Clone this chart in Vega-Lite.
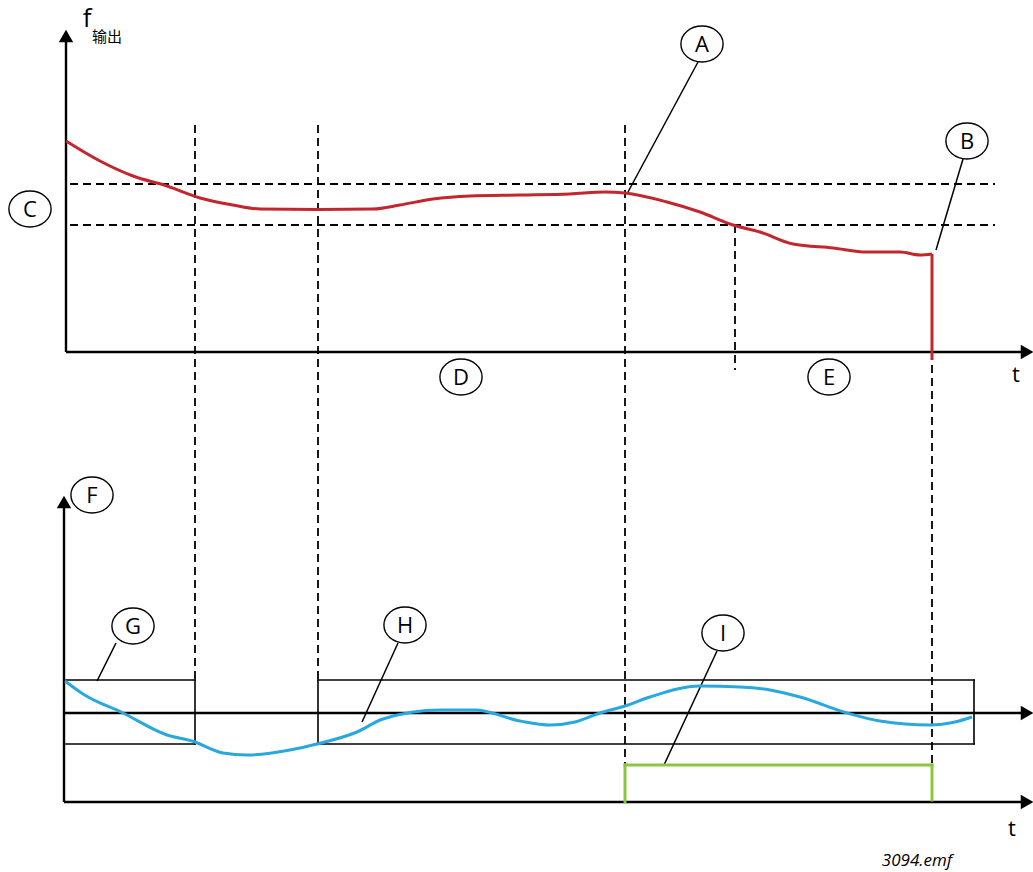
{
  "$schema": "https://vega.github.io/schema/vega-lite/v6.json",
  "autosize": "none",
  "width": 1033,
  "height": 872,
  "padding": 0,
  "background": "white",
  "config": {"view": {"stroke": null}},
  "datasets": {
    "rules": [
      {"kind": "axis", "x": 66, "y": 352, "x2": 66, "y2": 42},
      {"kind": "axis", "x": 66, "y": 352, "x2": 1024, "y2": 352},
      {"kind": "axis", "x": 64, "y": 802, "x2": 64, "y2": 507},
      {"kind": "axis", "x": 64, "y": 713, "x2": 1024, "y2": 713},
      {"kind": "axis", "x": 64, "y": 802, "x2": 1024, "y2": 802},
      {"kind": "box", "x": 66, "y": 680, "x2": 195, "y2": 680},
      {"kind": "box", "x": 66, "y": 744, "x2": 195, "y2": 744},
      {"kind": "box", "x": 195, "y": 680, "x2": 195, "y2": 744},
      {"kind": "box", "x": 318, "y": 680, "x2": 974, "y2": 680},
      {"kind": "box", "x": 318, "y": 744, "x2": 974, "y2": 744},
      {"kind": "box", "x": 318, "y": 680, "x2": 318, "y2": 744},
      {"kind": "box", "x": 974, "y": 680, "x2": 974, "y2": 744},
      {"kind": "dash", "x": 70, "y": 184, "x2": 995, "y2": 184},
      {"kind": "dash", "x": 70, "y": 225, "x2": 995, "y2": 225},
      {"kind": "dash", "x": 195, "y": 125, "x2": 195, "y2": 680},
      {"kind": "dash", "x": 318, "y": 125, "x2": 318, "y2": 680},
      {"kind": "dash", "x": 625, "y": 125, "x2": 625, "y2": 765},
      {"kind": "dash", "x": 735, "y": 225, "x2": 735, "y2": 370},
      {"kind": "dash", "x": 932, "y": 352, "x2": 932, "y2": 765},
      {"kind": "green", "x": 625, "y": 802, "x2": 625, "y2": 765},
      {"kind": "green", "x": 625, "y": 765, "x2": 932, "y2": 765},
      {"kind": "green", "x": 932, "y": 765, "x2": 932, "y2": 800},
      {"kind": "leader", "x": 698, "y": 62, "x2": 628, "y2": 192},
      {"kind": "leader", "x": 963, "y": 159, "x2": 936, "y2": 250},
      {"kind": "leader", "x": 116, "y": 643, "x2": 97, "y2": 681},
      {"kind": "leader", "x": 398, "y": 643, "x2": 362, "y2": 722},
      {"kind": "leader", "x": 717, "y": 651, "x2": 664, "y2": 765},
      {"kind": "red", "x": 932, "y": 254, "x2": 932, "y2": 360}
    ],
    "red": [
      {"x": 66, "y": 141}, {"x": 100, "y": 161}, {"x": 133, "y": 176}, {"x": 167, "y": 186},
      {"x": 200, "y": 198}, {"x": 233, "y": 205}, {"x": 260, "y": 209}, {"x": 318, "y": 209.5},
      {"x": 373, "y": 209}, {"x": 400, "y": 205}, {"x": 433, "y": 199}, {"x": 470, "y": 196},
      {"x": 520, "y": 195}, {"x": 570, "y": 194}, {"x": 605, "y": 192}, {"x": 625, "y": 193},
      {"x": 667, "y": 202}, {"x": 700, "y": 212}, {"x": 733, "y": 225}, {"x": 760, "y": 232},
      {"x": 793, "y": 244}, {"x": 833, "y": 248}, {"x": 867, "y": 252}, {"x": 900, "y": 252},
      {"x": 920, "y": 255}, {"x": 932, "y": 254}
    ],
    "blue": [
      {"x": 65, "y": 681}, {"x": 83, "y": 694}, {"x": 123, "y": 713}, {"x": 167, "y": 735},
      {"x": 192, "y": 741}, {"x": 223, "y": 753}, {"x": 247, "y": 755}, {"x": 290, "y": 750},
      {"x": 317, "y": 744}, {"x": 357, "y": 732}, {"x": 383, "y": 719}, {"x": 440, "y": 710},
      {"x": 475, "y": 710}, {"x": 520, "y": 721}, {"x": 550, "y": 725}, {"x": 575, "y": 722},
      {"x": 600, "y": 713}, {"x": 625, "y": 706}, {"x": 650, "y": 697}, {"x": 700, "y": 686},
      {"x": 740, "y": 687}, {"x": 770, "y": 690}, {"x": 800, "y": 697}, {"x": 847, "y": 713},
      {"x": 880, "y": 721}, {"x": 930, "y": 725}, {"x": 955, "y": 722}, {"x": 972, "y": 717}
    ],
    "arrows": [
      {"x": 66, "y": 36, "shape": "triangle-up"},
      {"x": 1027, "y": 352, "shape": "triangle-right"},
      {"x": 64, "y": 502, "shape": "triangle-up"},
      {"x": 1027, "y": 713, "shape": "triangle-right"},
      {"x": 1027, "y": 802, "shape": "triangle-right"}
    ],
    "circles": [
      {"x": 702, "y": 44, "label": "A"},
      {"x": 967, "y": 141, "label": "B"},
      {"x": 30, "y": 209, "label": "C"},
      {"x": 461, "y": 377, "label": "D"},
      {"x": 829, "y": 377, "label": "E"},
      {"x": 92, "y": 495, "label": "F"},
      {"x": 133, "y": 626, "label": "G"},
      {"x": 405, "y": 625, "label": "H"},
      {"x": 723, "y": 633, "label": "I"}
    ],
    "texts": [
      {"x": 1016, "y": 375, "label": "t"},
      {"x": 1012, "y": 829, "label": "t"}
    ]
  },
  "layer": [
    {
      "data": {"name": "rules"},
      "transform": [{"filter": "datum.kind === 'dash'"}],
      "mark": {"type": "rule", "color": "black", "strokeWidth": 1.8, "strokeDash": [8, 5]},
      "encoding": {
        "x": {"field": "x", "type": "quantitative", "scale": {"domain": [0, 1033], "nice": false, "zero": false}, "axis": null},
        "y": {"field": "y", "type": "quantitative", "scale": {"domain": [0, 872], "nice": false, "zero": false, "reverse": true}, "axis": null},
        "x2": {"field": "x2"},
        "y2": {"field": "y2"}
      }
    },
    {
      "data": {"name": "rules"},
      "transform": [{"filter": "datum.kind === 'axis'"}],
      "mark": {"type": "rule", "color": "black", "strokeWidth": 2.4},
      "encoding": {
        "x": {"field": "x", "type": "quantitative", "axis": null},
        "y": {"field": "y", "type": "quantitative", "axis": null},
        "x2": {"field": "x2"},
        "y2": {"field": "y2"}
      }
    },
    {
      "data": {"name": "rules"},
      "transform": [{"filter": "datum.kind === 'box'"}],
      "mark": {"type": "rule", "color": "black", "strokeWidth": 1.6, "strokeCap": "square"},
      "encoding": {
        "x": {"field": "x", "type": "quantitative", "axis": null},
        "y": {"field": "y", "type": "quantitative", "axis": null},
        "x2": {"field": "x2"},
        "y2": {"field": "y2"}
      }
    },
    {
      "data": {"name": "rules"},
      "transform": [{"filter": "datum.kind === 'leader'"}],
      "mark": {"type": "rule", "color": "black", "strokeWidth": 1.5},
      "encoding": {
        "x": {"field": "x", "type": "quantitative", "axis": null},
        "y": {"field": "y", "type": "quantitative", "axis": null},
        "x2": {"field": "x2"},
        "y2": {"field": "y2"}
      }
    },
    {
      "data": {"name": "rules"},
      "transform": [{"filter": "datum.kind === 'green'"}],
      "mark": {"type": "rule", "color": "#8cc63f", "strokeWidth": 3, "strokeCap": "square"},
      "encoding": {
        "x": {"field": "x", "type": "quantitative", "axis": null},
        "y": {"field": "y", "type": "quantitative", "axis": null},
        "x2": {"field": "x2"},
        "y2": {"field": "y2"}
      }
    },
    {
      "data": {"name": "red"},
      "mark": {"type": "line", "color": "#c1272d", "strokeWidth": 3, "interpolate": "monotone"},
      "encoding": {
        "x": {"field": "x", "type": "quantitative", "axis": null},
        "y": {"field": "y", "type": "quantitative", "axis": null}
      }
    },
    {
      "data": {"name": "rules"},
      "transform": [{"filter": "datum.kind === 'red'"}],
      "mark": {"type": "rule", "color": "#c1272d", "strokeWidth": 3},
      "encoding": {
        "x": {"field": "x", "type": "quantitative", "axis": null},
        "y": {"field": "y", "type": "quantitative", "axis": null},
        "x2": {"field": "x2"},
        "y2": {"field": "y2"}
      }
    },
    {
      "data": {"name": "blue"},
      "mark": {"type": "line", "color": "#29a8e0", "strokeWidth": 3, "interpolate": "monotone"},
      "encoding": {
        "x": {"field": "x", "type": "quantitative", "axis": null},
        "y": {"field": "y", "type": "quantitative", "axis": null}
      }
    },
    {
      "data": {"name": "arrows"},
      "mark": {"type": "point", "filled": true, "color": "black", "size": 210, "opacity": 1},
      "encoding": {
        "x": {"field": "x", "type": "quantitative", "axis": null},
        "y": {"field": "y", "type": "quantitative", "axis": null},
        "shape": {"field": "shape", "type": "nominal", "scale": null, "legend": null}
      }
    },
    {
      "data": {"name": "circles"},
      "mark": {"type": "point", "shape": "M -1.17,0 A 1.17,1 0 1,0 1.17,0 A 1.17,1 0 1,0 -1.17,0 Z", "size": 1300, "fill": "white", "stroke": "black", "strokeWidth": 1.4, "opacity": 1, "fillOpacity": 1},
      "encoding": {
        "x": {"field": "x", "type": "quantitative", "axis": null},
        "y": {"field": "y", "type": "quantitative", "axis": null}
      }
    },
    {
      "data": {"name": "circles"},
      "mark": {"type": "text", "font": "Open Sans", "fontSize": 22, "color": "black", "align": "center", "baseline": "middle", "dy": 1},
      "encoding": {
        "x": {"field": "x", "type": "quantitative", "axis": null},
        "y": {"field": "y", "type": "quantitative", "axis": null},
        "text": {"field": "label"}
      }
    },
    {
      "data": {"name": "texts"},
      "mark": {"type": "text", "font": "Open Sans", "fontSize": 22, "color": "black", "align": "center", "baseline": "middle"},
      "encoding": {
        "x": {"field": "x", "type": "quantitative", "axis": null},
        "y": {"field": "y", "type": "quantitative", "axis": null},
        "text": {"field": "label"}
      }
    },
    {
      "data": {"values": [{"x": 87, "y": 19, "label": "f"}]},
      "mark": {"type": "text", "font": "Open Sans", "fontSize": 26, "color": "black", "align": "center", "baseline": "middle"},
      "encoding": {
        "x": {"field": "x", "type": "quantitative", "axis": null},
        "y": {"field": "y", "type": "quantitative", "axis": null},
        "text": {"field": "label"}
      }
    },
    {
      "data": {"values": [{"x": 107, "y": 37, "label": "输出"}]},
      "mark": {"type": "text", "font": "Noto Sans CJK SC", "fontSize": 15, "color": "black", "align": "center", "baseline": "middle"},
      "encoding": {
        "x": {"field": "x", "type": "quantitative", "axis": null},
        "y": {"field": "y", "type": "quantitative", "axis": null},
        "text": {"field": "label"}
      }
    },
    {
      "data": {"values": [{"x": 917, "y": 861, "label": "3094.emf"}]},
      "mark": {"type": "text", "font": "Open Sans", "fontSize": 17, "fontStyle": "italic", "color": "black", "align": "center", "baseline": "middle"},
      "encoding": {
        "x": {"field": "x", "type": "quantitative", "axis": null},
        "y": {"field": "y", "type": "quantitative", "axis": null},
        "text": {"field": "label"}
      }
    }
  ]
}
